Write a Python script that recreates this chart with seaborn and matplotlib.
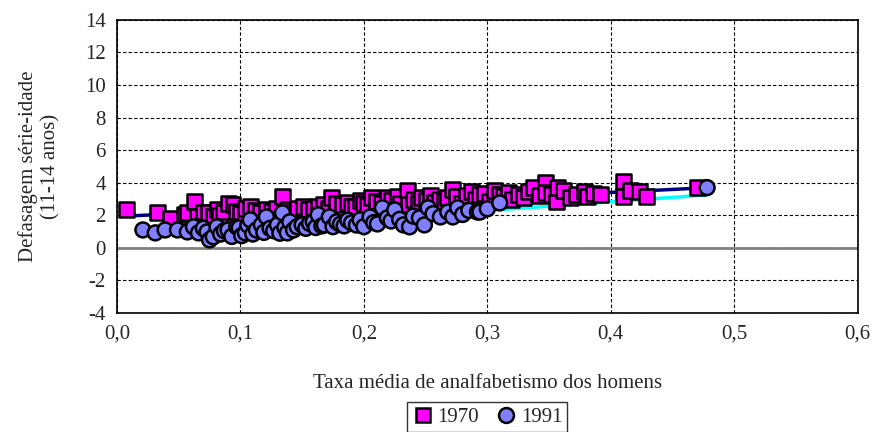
import matplotlib

matplotlib.use("Agg")
import matplotlib.pyplot as plt
import numpy as np
import pandas as pd
import seaborn as sns
from matplotlib.ticker import FuncFormatter

# 1970 points (taxa de analfabetismo, defasagem)
x_1970 = [0.008, 0.033, 0.043, 0.055, 0.057, 0.063, 0.065, 0.070, 0.074, 0.078,
          0.081, 0.083, 0.086, 0.090, 0.094, 0.097, 0.100, 0.104, 0.108, 0.112,
          0.116, 0.121, 0.125, 0.129, 0.134, 0.138, 0.142, 0.146, 0.151, 0.155,
          0.159, 0.163, 0.167, 0.171, 0.174, 0.178, 0.183, 0.187, 0.190, 0.193,
          0.197, 0.200, 0.203, 0.206, 0.210, 0.214, 0.219, 0.222, 0.227, 0.230,
          0.235, 0.236, 0.240, 0.244, 0.247, 0.251, 0.254, 0.257, 0.261, 0.265,
          0.268, 0.272, 0.275, 0.279, 0.283, 0.287, 0.290, 0.294, 0.298, 0.302,
          0.306, 0.310, 0.313, 0.317, 0.320, 0.325, 0.329, 0.333, 0.337, 0.342,
          0.347, 0.347, 0.352, 0.356, 0.357, 0.362, 0.367, 0.372, 0.379, 0.381,
          0.386, 0.392, 0.410, 0.410, 0.416, 0.423, 0.429, 0.470]
y_1970 = [2.33, 2.15, 1.78, 2.05, 2.15, 2.83, 1.90, 2.20, 2.15, 1.95,
          2.33, 2.00, 2.20, 2.70, 2.64, 2.25, 2.10, 2.40, 2.52, 2.30,
          2.15, 2.33, 2.25, 2.45, 3.13, 2.35, 2.20, 2.40, 2.52, 2.35,
          2.45, 2.55, 2.64, 2.45, 3.07, 2.70, 2.64, 2.80, 2.55, 2.52,
          2.90, 2.75, 2.60, 3.07, 2.85, 2.70, 3.07, 2.90, 3.13, 2.75,
          3.50, 2.64, 2.95, 2.80, 3.07, 2.90, 3.20, 2.76, 3.00, 2.85,
          3.10, 3.56, 3.13, 2.70, 3.20, 3.44, 3.00, 3.25, 3.35, 2.85,
          3.50, 3.30, 3.15, 3.40, 2.95, 3.25, 3.07, 3.45, 3.70, 3.20,
          4.00, 3.40, 3.30, 2.83, 3.70, 3.50, 3.07, 3.25, 3.44, 3.13,
          3.35, 3.30, 4.05, 3.13, 3.50, 3.44, 3.13, 3.70]

# 1991 points
x_1991 = [0.021, 0.031, 0.039, 0.049, 0.057, 0.062, 0.066, 0.070, 0.073, 0.075,
          0.078, 0.081, 0.084, 0.087, 0.090, 0.093, 0.097, 0.099, 0.101, 0.104,
          0.106, 0.108, 0.110, 0.113, 0.117, 0.119, 0.121, 0.124, 0.127, 0.130,
          0.132, 0.134, 0.136, 0.138, 0.140, 0.143, 0.146, 0.150, 0.153, 0.156,
          0.159, 0.161, 0.163, 0.166, 0.168, 0.172, 0.175, 0.178, 0.181, 0.184,
          0.187, 0.190, 0.194, 0.197, 0.200, 0.205, 0.208, 0.211, 0.215, 0.219,
          0.222, 0.225, 0.229, 0.232, 0.237, 0.240, 0.245, 0.249, 0.252, 0.256,
          0.262, 0.268, 0.272, 0.276, 0.280, 0.285, 0.292, 0.294, 0.300, 0.310,
          0.478]
y_1991 = [1.10, 0.92, 1.10, 1.10, 0.98, 1.29, 0.92, 1.20, 0.98, 0.49,
          0.68, 1.29, 0.85, 1.05, 1.10, 0.70, 1.29, 1.23, 0.75, 0.92,
          1.40, 1.72, 0.85, 1.10, 1.41, 0.95, 1.90, 1.20, 1.05, 1.41,
          0.90, 2.15, 1.25, 0.92, 1.60, 1.10, 1.30, 1.41, 1.20, 1.50,
          1.60, 1.25, 2.03, 1.35, 1.41, 1.90, 1.30, 1.60, 1.45, 1.35,
          1.70, 1.53, 1.40, 1.72, 1.30, 1.90, 1.55, 1.47, 2.46, 1.84,
          1.65, 2.33, 1.75, 1.41, 1.29, 1.95, 1.84, 1.41, 2.46, 2.10,
          1.90, 2.20, 1.90, 2.46, 2.05, 2.30, 2.20, 2.20, 2.40, 2.76,
          3.70]

# trend lines
trend_x_1970 = [0.008, 0.475]
trend_y_1970 = [1.95, 3.68]
trend_x_1991 = [0.020, 0.478]
trend_y_1991 = [0.78, 3.25]

y_ticks = [-4, -2, 0, 2, 4, 6, 8, 10, 12, 14]
x_ticks = [0.0, 0.1, 0.2, 0.3, 0.4, 0.5, 0.6]

df = pd.concat([
    pd.DataFrame({"taxa": x_1970, "defasagem": y_1970, "ano": "1970"}),
    pd.DataFrame({"taxa": x_1991, "defasagem": y_1991, "ano": "1991"}),
])

sns.set_style("white")
plt.rcParams["font.family"] = ["Liberation Serif", "DejaVu Serif"]
plt.rcParams["axes.unicode_minus"] = False

fig = plt.figure(figsize=(8.77, 4.32), dpi=100)
ax = fig.add_axes([0.1334, 0.2755, 0.8446, 0.6785])

ax.axhline(0, color="#808080", lw=2, zorder=1)
sns.lineplot(x=trend_x_1970, y=trend_y_1970, color="#000080", lw=2.5, ax=ax, zorder=2)
sns.lineplot(x=trend_x_1991, y=trend_y_1991, color="#00FFFF", lw=2.5, ax=ax, zorder=2)

sns.scatterplot(data=df, x="taxa", y="defasagem", hue="ano", style="ano",
                markers={"1970": "s", "1991": "o"},
                palette={"1970": "#FF00FF", "1991": "#8080FF"},
                s=115, edgecolor="black", linewidth=1.8, ax=ax, zorder=3)

ax.set_xlim(0, 0.6)
ax.set_ylim(-4, 14)
ax.set_xticks(x_ticks)
ax.set_yticks(y_ticks)
ax.xaxis.set_major_formatter(FuncFormatter(lambda v, p: f"{v:.1f}".replace(".", ",")))
ax.grid(True, color="black", ls=(0, (3, 2)), lw=0.8)
ax.set_axisbelow(True)
for sp in ax.spines.values():
    sp.set_color("black")
    sp.set_linewidth(1.2)
ax.tick_params(axis="both", direction="out", length=4, color="black",
               labelsize=15, pad=4)

ax.set_xlabel("Taxa média de analfabetismo dos homens", fontsize=15, labelpad=22)
ax.set_ylabel("Defasagem série-idade\n(11-14 anos)", fontsize=15, labelpad=18)

sns.move_legend(ax, "center", bbox_to_anchor=(0.5, -0.355), ncol=2, title=None,
                frameon=True, fancybox=False, edgecolor="black", fontsize=15,
                handletextpad=0.2, columnspacing=0.8, borderpad=0.25,
                handlelength=1.0, markerscale=1.0)
ax.get_legend().get_frame().set_linewidth(1.0)

fig.savefig("out.png", dpi=100)
